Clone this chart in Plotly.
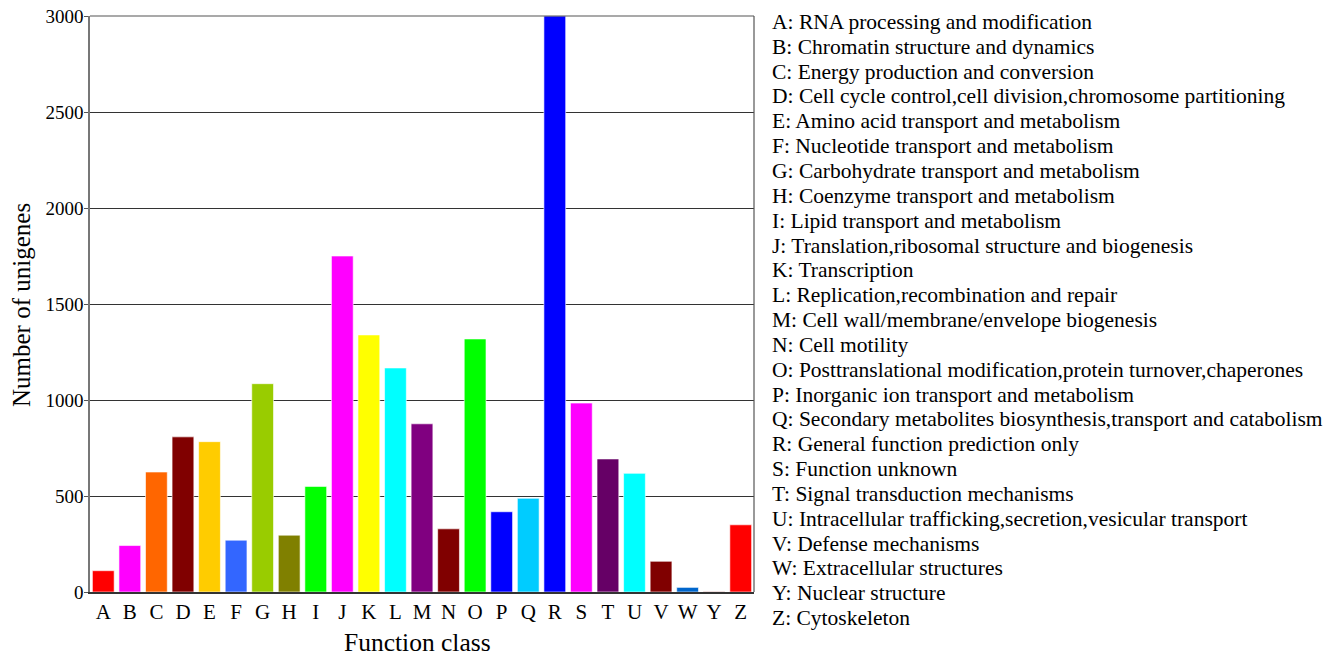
import plotly.graph_objects as go

categories = ["A", "B", "C", "D", "E", "F", "G", "H", "I", "J", "K", "L", "M",
              "N", "O", "P", "Q", "R", "S", "T", "U", "V", "W", "Y", "Z"]
counts = [111, 242, 625, 808, 783, 270, 1085, 296, 550, 1750, 1339, 1167, 876,
          329, 1318, 418, 488, 3000, 984, 693, 618, 160, 24, 2, 350]
bar_colors = ["#FF0000", "#FF00FF", "#FF6600", "#800000", "#FFCC00", "#3366FF",
              "#99CC00", "#808000", "#00FF00", "#FF00FF", "#FFFF00", "#00FFFF",
              "#800080", "#800000", "#00FF00", "#0000FF", "#00CCFF", "#0000FF",
              "#FF00FF", "#660066", "#00FFFF", "#800000", "#0066CC", "#800000",
              "#FF0000"]
descriptions = [
    "A: RNA processing and modification",
    "B: Chromatin structure and dynamics",
    "C: Energy production and conversion",
    "D: Cell cycle control,cell division,chromosome partitioning",
    "E: Amino acid transport and metabolism",
    "F: Nucleotide transport and metabolism",
    "G: Carbohydrate transport and metabolism",
    "H: Coenzyme transport and metabolism",
    "I: Lipid transport and metabolism",
    "J: Translation,ribosomal structure and biogenesis",
    "K: Transcription",
    "L: Replication,recombination and repair",
    "M: Cell wall/membrane/envelope biogenesis",
    "N: Cell motility",
    "O: Posttranslational modification,protein turnover,chaperones",
    "P: Inorganic ion transport and metabolism",
    "Q: Secondary metabolites biosynthesis,transport and catabolism",
    "R: General function prediction only",
    "S: Function unknown",
    "T: Signal transduction mechanisms",
    "U: Intracellular trafficking,secretion,vesicular transport",
    "V: Defense mechanisms",
    "W: Extracellular structures",
    "Y: Nuclear structure",
    "Z: Cytoskeleton",
]
x_title = "Function class"
y_title = "Number of unigenes"

FONT = "Liberation Serif, Times New Roman, serif"

W, H = 1337, 657
L, T = 90, 16
R = W - 754
B = H - 592
PW, PH = W - L - R, H - T - B


def px_x(x):
    return (x - L) / PW


def px_y(y):
    return 1 - (y - T) / PH


fig = go.Figure(go.Bar(
    x=categories, y=counts,
    marker=dict(color=bar_colors, line=dict(color="rgba(255,255,255,0.6)", width=1)),
    width=0.82,
))

fig.update_layout(
    width=W, height=H,
    margin=dict(l=L, r=R, t=T, b=B, autoexpand=False),
    paper_bgcolor="white", plot_bgcolor="white",
    font=dict(family=FONT, color="black", size=20),
    showlegend=False,
    xaxis=dict(
        showgrid=False, showline=True, linecolor="#333333", linewidth=1.5,
        ticks="", tickfont=dict(size=21), automargin=False,
        range=[-0.5, 24.5],
    ),
    yaxis=dict(
        range=[0, 3000], tickvals=[0, 500, 1000, 1500, 2000, 2500, 3000],
        showgrid=True, gridcolor="#333333", gridwidth=1.2,
        showline=True, linecolor="#777777", linewidth=1.5,
        ticks="outside", ticklen=4, tickcolor="#555555",
        tickfont=dict(size=19), automargin=False, ticklabelstandoff=-3,
        zeroline=False,
    ),
    shapes=[
        dict(type="line", xref="paper", yref="paper", x0=1, x1=1, y0=0, y1=1,
             line=dict(color="#555555", width=1.2)),
        dict(type="line", xref="paper", yref="paper", x0=0, x1=1, y0=1, y1=1,
             line=dict(color="#555555", width=1.2)),
    ],
)

ann = []
pitch = (618 - 22) / (len(descriptions) - 1)
for i, d in enumerate(descriptions):
    ypix = 22 + i * pitch
    ann.append(dict(
        text=d, xref="paper", yref="paper",
        x=px_x(770), y=px_y(ypix),
        xanchor="left", yanchor="middle", showarrow=False,
        font=dict(size=21.5, family=FONT, color="black"),
    ))
ann.append(dict(
    text=x_title, xref="paper", yref="paper", x=px_x(417), y=px_y(642),
    xanchor="center", yanchor="middle", showarrow=False,
    font=dict(size=25.5, family=FONT, color="black"),
))
ann.append(dict(
    text=y_title, xref="paper", yref="paper", x=px_x(21), y=px_y(305),
    xanchor="center", yanchor="middle", showarrow=False, textangle=-90,
    font=dict(size=25, family=FONT, color="black"),
))
fig.update_layout(annotations=ann)

fig.write_html(
    "out.html",
    config={"displayModeBar": False},
    post_script="document.body.style.margin='0';document.body.style.overflow='hidden';",
)
